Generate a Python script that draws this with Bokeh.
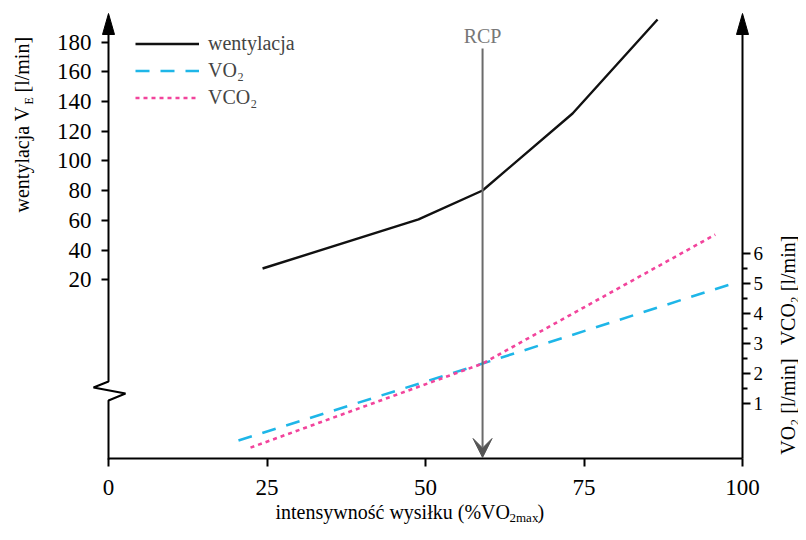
import math
from bokeh.plotting import figure
from bokeh.models import (Range1d, LinearAxis, FixedTicker, Legend, LegendItem,
                          Label, Arrow, VeeHead)
from bokeh.embed import file_html
from bokeh.resources import INLINE

# ---------------- data ----------------
pct_vent = [24.3, 48.9, 59.0, 73.2, 86.6]      # % VO2max
vent = [27.6, 60.6, 80.1, 131.9, 195.2]        # l/min
pct_vo2 = [20.5, 59.0, 98.9]
vo2 = [-0.23, 2.33, 5.03]                        # l/min
pct_vco2 = [22.4, 59.0, 95.7]
vco2 = [-0.47, 2.33, 6.63]                       # l/min
rcp_pct = 59.0

x_ticks = [0, 25, 50, 75, 100]
vent_ticks = [20, 40, 60, 80, 100, 120, 140, 160, 180]
gas_ticks = [1, 2, 3, 4, 5, 6]
gas_minor = [1.5, 2.5, 3.5, 4.5, 5.5]

legend_labels = ["wentylacja", "VO\u2082", "VCO\u2082"]

# ---------------- layout geometry (pixels of the picture) ----------------
W, H = 798, 524
PX = 6.34                     # px per % on x
X0 = 108                      # x pixel of 0 %
VPX, V0 = 1.486, 309          # ventilation: px per unit, y pixel of 0
GPX, G0 = 30.0, 433           # VO2/VCO2: px per unit, y pixel of 0
AX_TOP, AX_BOT = 13, 458      # top of axis arrows / x axis line

def X(sx):
    return (sx - X0) / PX

def V(sy):
    return (V0 - sy) / VPX

def G(sy):
    return (G0 - sy) / GPX

FONT = "Liberation Serif"
CYAN = "#1eb6e8"
PINK = "#f2449c"

p = figure(width=W, height=H, output_backend="svg", toolbar_location=None,
           x_range=Range1d(X(0), X(W)), y_range=Range1d(V(H), V(0)),
           min_border_left=0, min_border_right=0,
           min_border_top=0, min_border_bottom=0)
p.title.visible = False
p.outline_line_color = None
p.grid.visible = False
p.background_fill_color = "white"
p.border_fill_color = "white"

p.extra_y_ranges = {"gas": Range1d(G(H), G(0))}

# left axis (ventilation) at x = 0
ya = p.yaxis[0]
ya.fixed_location = 0
ya.ticker = FixedTicker(ticks=vent_ticks, minor_ticks=[])
ya.axis_line_alpha = 0
ya.major_tick_out = 7
ya.major_tick_in = 0
ya.major_tick_line_width = 2
ya.major_label_standoff = 10
ya.major_label_text_font = FONT
ya.major_label_text_font_size = "23px"
ya.major_label_text_color = "black"

# bottom axis
xa = p.xaxis[0]
xa.fixed_location = V(AX_BOT)
xa.bounds = (0, 100)
xa.ticker = FixedTicker(ticks=x_ticks, minor_ticks=[])
xa.axis_line_width = 2
xa.major_tick_out = 8
xa.major_tick_in = 0
xa.major_tick_line_width = 2
xa.major_label_standoff = 13
xa.major_label_text_font = FONT
xa.major_label_text_font_size = "23px"
xa.major_label_text_color = "black"

# right axis (VO2 / VCO2) at x = 100
ra = LinearAxis(y_range_name="gas", fixed_location=100,
                ticker=FixedTicker(ticks=gas_ticks, minor_ticks=gas_minor))
ra.bounds = (G(AX_BOT), G(AX_TOP + 4))
ra.axis_line_width = 2
ra.major_tick_out = 8
ra.major_tick_in = 0
ra.minor_tick_out = 5
ra.minor_tick_in = 0
ra.major_tick_line_width = 2
ra.minor_tick_line_width = 2
ra.major_label_standoff = 3
ra.major_label_text_font = FONT
ra.major_label_text_font_size = "19px"
ra.major_label_text_color = "black"
p.add_layout(ra, "right")

# left axis line with break and arrow heads
p.line([X(108), X(108), X(93), X(125), X(108), X(108)],
       [V(28), V(381), V(387), V(393), V(400), V(AX_BOT + 1)],
       line_color="black", line_width=2)
p.patch([X(102), X(108), X(114)], [V(34), V(AX_TOP), V(34)],
        fill_color="black", line_color="black")
p.patch([X(736), X(742), X(748)], [V(34), V(AX_TOP), V(34)],
        fill_color="black", line_color="black")

# data lines
r_vent = p.line(pct_vent, vent, line_color="#111111", line_width=2.4)
r_vo2 = p.line(pct_vo2, vo2, y_range_name="gas", line_color=CYAN,
               line_width=2.6, line_dash="14 11")
r_vco2 = p.line(pct_vco2, vco2, y_range_name="gas", line_color=PINK,
                line_width=2.6, line_dash="4 4")

# RCP arrow and label
p.add_layout(Arrow(end=VeeHead(size=19, fill_color="#555555", line_color="#555555"),
                   start=None, x_start=rcp_pct, y_start=V(48),
                   x_end=rcp_pct, y_end=V(457),
                   line_color="#6b6b6b", line_width=2))
p.add_layout(Label(x=rcp_pct, y=V(35), text="RCP", text_align="center",
                   text_baseline="middle", text_font=FONT,
                   text_font_size="20px", text_color="#777777"))

# legend
legend = Legend(items=[LegendItem(label=legend_labels[0], renderers=[r_vent]),
                       LegendItem(label=legend_labels[1], renderers=[r_vo2]),
                       LegendItem(label=legend_labels[2], renderers=[r_vco2])],
                location=(127, H - 116.5), padding=8, margin=0,
                spacing=4, glyph_width=64, glyph_height=23, label_height=23,
                label_standoff=9, border_line_alpha=0, background_fill_alpha=0,
                label_text_font=FONT, label_text_font_size="20px")
p.add_layout(legend)

# left axis title: wentylacja V_E [l/min]
half = math.pi / 2
p.add_layout(Label(x=X(21), y=V(212), text="wentylacja V", angle=half,
                   text_align="left", text_baseline="middle",
                   text_font=FONT, text_font_size="20px", text_color="black"))
p.add_layout(Label(x=X(28), y=V(104), text="E", angle=half,
                   text_align="left", text_baseline="middle",
                   text_font=FONT, text_font_size="12px", text_color="black"))
p.add_layout(Label(x=X(21), y=V(92), text="[l/min]", angle=half,
                   text_align="left", text_baseline="middle",
                   text_font=FONT, text_font_size="20px", text_color="black"))

# right axis title (two parts)
p.add_layout(Label(x=X(787), y=G(406), y_range_name="gas",
                   text="VO\u2082 [l/min]", angle=half,
                   text_align="center", text_baseline="middle",
                   text_font=FONT, text_font_size="20px", text_color="black"))
p.add_layout(Label(x=X(787), y=G(290), y_range_name="gas",
                   text="VCO\u2082 [l/min]", angle=half,
                   text_align="center", text_baseline="middle",
                   text_font=FONT, text_font_size="20px", text_color="black"))

# bottom axis title: intensywność wysiłku (%VO2max)
p.add_layout(Label(x=X(275), y=V(511), text="intensywność wysiłku (%VO",
                   text_align="left", text_baseline="middle",
                   text_font=FONT, text_font_size="20px", text_color="black"))
p.add_layout(Label(x=X(509), y=V(517), text="2max",
                   text_align="left", text_baseline="middle",
                   text_font=FONT, text_font_size="13px", text_color="black"))
p.add_layout(Label(x=X(537), y=V(511), text=")",
                   text_align="left", text_baseline="middle",
                   text_font=FONT, text_font_size="20px", text_color="black"))

open("out.html", "w").write(file_html(p, INLINE))
